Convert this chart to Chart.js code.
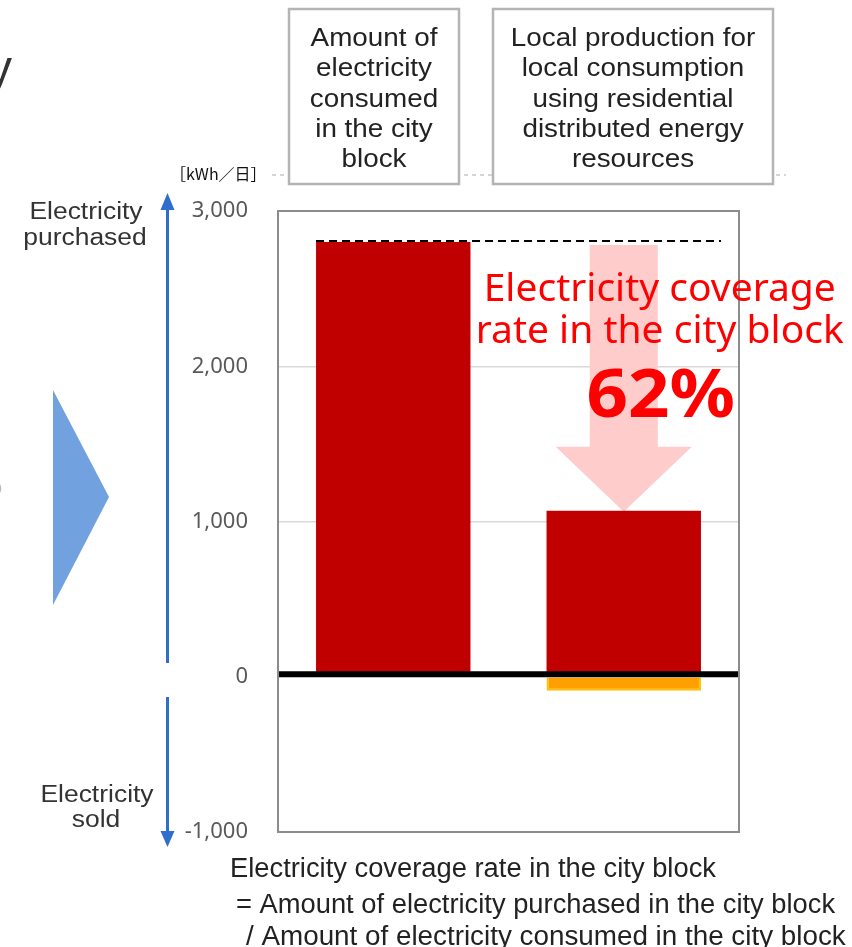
<!DOCTYPE html>
<html>
<head>
<meta charset="utf-8">
<script src="https://cdn.jsdelivr.net/npm/chart.js@4.4.1/dist/chart.umd.min.js"></script>
<style>
  html, body { margin: 0; padding: 0; background: #fff; }
  canvas { display: block; }
</style>
</head>
<body>
<canvas id="coverageChart" width="852" height="947"></canvas>
<script>
// categories (header boxes above the plot)
const categories = [
    'Amount of electricity consumed in the city block',
    'Local production for local consumption using residential distributed energy resources'
];
const headerLines = [
    ['Amount of', 'electricity', 'consumed', 'in the city', 'block'],
    ['Local production for', 'local consumption', 'using residential', 'distributed energy', 'resources']
];

// kWh per day
const purchasedValues = [2800, 1070];
const soldValues = [0, -90];

const yMin = -1000;
const yMax = 3000;
const yStep = 1000;
const unitLabel = '［kWh／日］';

const coverageRate = 62;
const coverageLines = ['Electricity coverage', 'rate in the city block'];
const formulaLines = [
    'Electricity coverage rate in the city block',
    '= Amount of electricity purchased in the city block',
    '/ Amount of electricity consumed in the city block'
];

function drawText(ctx, str, x, y, font, color, align, sx) {
    ctx.save();
    ctx.font = font;
    ctx.fillStyle = color;
    ctx.textAlign = align || 'left';
    ctx.textBaseline = 'alphabetic';
    ctx.translate(x, y);
    ctx.scale(sx || 1, 1);
    ctx.fillText(str, 0, 0);
    ctx.restore();
}

const decorations = {
    id: 'decorations',
    beforeDraw(chart) {
        const ctx = chart.ctx;
        ctx.save();
        ctx.fillStyle = '#fff';
        ctx.fillRect(0, 0, chart.width, chart.height);

        // cropped leftovers of the neighbouring panel
        drawText(ctx, 'y', -12, 84, '48px "Liberation Sans"', '#333', 'left');
        drawText(ctx, 'o', -9, 494, '20px "Liberation Sans"', '#bbb', 'left');

        // blue chevron
        ctx.fillStyle = '#71a2df';
        ctx.beginPath();
        ctx.moveTo(53, 390);
        ctx.lineTo(109, 497);
        ctx.lineTo(53, 605);
        ctx.closePath();
        ctx.fill();

        // blue direction arrows
        ctx.strokeStyle = '#2f6fcc';
        ctx.fillStyle = '#2f6fcc';
        ctx.lineWidth = 3;
        ctx.beginPath();
        ctx.moveTo(167.5, 205);
        ctx.lineTo(167.5, 663);
        ctx.moveTo(167.5, 697);
        ctx.lineTo(167.5, 836);
        ctx.stroke();
        ctx.beginPath();
        ctx.moveTo(167.5, 193);
        ctx.lineTo(174.5, 210);
        ctx.lineTo(160.5, 210);
        ctx.closePath();
        ctx.fill();
        ctx.beginPath();
        ctx.moveTo(167.5, 847);
        ctx.lineTo(174.5, 831);
        ctx.lineTo(160.5, 831);
        ctx.closePath();
        ctx.fill();

        const lab = '23px "Liberation Sans"';
        drawText(ctx, 'Electricity', 86, 219, lab, '#333', 'center', 1.15);
        drawText(ctx, 'purchased', 85, 245, lab, '#333', 'center', 1.15);
        drawText(ctx, 'Electricity', 97, 802, lab, '#333', 'center', 1.15);
        drawText(ctx, 'sold', 96, 827, lab, '#333', 'center', 1.15);

        drawText(ctx, unitLabel, 170, 180, '16px "Noto Sans CJK JP"', '#111', 'left');

        // header boxes
        ctx.strokeStyle = '#c8c8c8';
        ctx.lineWidth = 1.5;
        ctx.setLineDash([4, 4]);
        ctx.beginPath();
        ctx.moveTo(272, 175);
        ctx.lineTo(786, 175);
        ctx.stroke();
        ctx.setLineDash([]);

        const boxes = [[289, 459], [493, 773]];
        boxes.forEach((b, i) => {
            ctx.fillStyle = '#fff';
            ctx.fillRect(b[0], 9, b[1] - b[0], 175);
            ctx.strokeStyle = '#b4b4b4';
            ctx.lineWidth = 2.5;
            ctx.strokeRect(b[0], 9, b[1] - b[0], 175);
            const cx = (b[0] + b[1]) / 2;
            headerLines[i].forEach((line, j) => {
                drawText(ctx, line, cx, 46 + j * 30.3, '26px "Liberation Sans"', '#222', 'center', 1.07);
            });
        });
        ctx.restore();
    },
    beforeDatasetsDraw(chart) {
        const ctx = chart.ctx;
        const y = chart.scales.y;
        const bars = chart.getDatasetMeta(0).data;
        const topY = y.getPixelForValue(purchasedValues[0]);
        const tipY = y.getPixelForValue(purchasedValues[1]);
        const cx = bars[1].x;
        ctx.save();
        ctx.fillStyle = '#ffcccc';
        ctx.beginPath();
        ctx.moveTo(cx - 34, topY + 3);
        ctx.lineTo(cx + 34, topY + 3);
        ctx.lineTo(cx + 34, tipY - 64);
        ctx.lineTo(cx + 68, tipY - 64);
        ctx.lineTo(cx, tipY + 1);
        ctx.lineTo(cx - 68, tipY - 64);
        ctx.lineTo(cx - 34, tipY - 64);
        ctx.closePath();
        ctx.fill();
        ctx.restore();
    },
    afterDatasetsDraw(chart) {
        const ctx = chart.ctx;
        const area = chart.chartArea;
        const y = chart.scales.y;
        const bars = chart.getDatasetMeta(0).data;
        ctx.save();

        // zero line
        const zeroY = y.getPixelForValue(0);
        ctx.strokeStyle = '#000';
        ctx.lineWidth = 6;
        ctx.beginPath();
        ctx.moveTo(area.left, zeroY - 2.5);
        ctx.lineTo(area.right, zeroY - 2.5);
        ctx.stroke();

        // dashed reference line at the consumed amount
        const topY = y.getPixelForValue(purchasedValues[0]) - 1;
        ctx.lineWidth = 2;
        ctx.setLineDash([8, 5]);
        ctx.beginPath();
        ctx.moveTo(bars[0].x - bars[0].width / 2, topY);
        ctx.lineTo(bars[1].x + bars[1].width / 2 + 20, topY);
        ctx.stroke();
        ctx.setLineDash([]);

        // plot border
        ctx.strokeStyle = '#8c8c8c';
        ctx.lineWidth = 2;
        ctx.strokeRect(area.left, area.top, area.right - area.left, area.bottom - area.top);

        // coverage annotation
        const tx = bars[1].x + 36;
        drawText(ctx, coverageLines[0], tx, 301, '39px "Noto Sans"', '#ff0000', 'center');
        drawText(ctx, coverageLines[1], tx, 343, '39px "Noto Sans"', '#ff0000', 'center');
        drawText(ctx, coverageRate + '%', tx + 1, 417, 'bold 66px "Noto Sans"', '#ff0000', 'center', 1.1);

        // formula below the chart
        const f = '27px "Liberation Sans"';
        drawText(ctx, formulaLines[0], 230, 877, f, '#222', 'left', 1.012);
        drawText(ctx, formulaLines[1], 236, 913, f, '#222', 'left', 1.012);
        drawText(ctx, formulaLines[2], 246, 945, f, '#222', 'left', 1.03);
        ctx.restore();
    }
};

const ctx = document.getElementById('coverageChart').getContext('2d');
new Chart(ctx, {
    type: 'bar',
    data: {
        labels: categories,
        datasets: [{
            label: 'Electricity purchased',
            data: purchasedValues,
            backgroundColor: '#c00000',
            borderWidth: 0
        }, {
            label: 'Electricity sold',
            data: soldValues,
            backgroundColor: '#ffa000',
            borderColor: '#ffc000',
            borderWidth: 2
        }]
    },
    options: {
        responsive: false,
        animation: false,
        events: [],
        layout: {
            padding: { left: 0, right: 113, top: 211, bottom: 115 }
        },
        plugins: {
            legend: { display: false },
            tooltip: { enabled: false }
        },
        datasets: {
            bar: { barPercentage: 1, categoryPercentage: 0.67 }
        },
        scales: {
            x: {
                display: false,
                stacked: true
            },
            y: {
                stacked: true,
                min: yMin,
                max: yMax,
                afterFit(scale) { scale.width = 278; },
                border: { display: false },
                grid: {
                    drawTicks: false,
                    lineWidth: 1.5,
                    color: c => (c.tick && c.tick.value > yMin && c.tick.value < yMax && c.tick.value !== 0) ? '#d9d9d9' : 'rgba(0,0,0,0)'
                },
                ticks: {
                    stepSize: yStep,
                    padding: 30,
                    color: '#595959',
                    font: { family: '"Noto Sans"', size: 22 },
                    callback: v => v.toLocaleString('en-US')
                }
            }
        }
    },
    plugins: [decorations]
});
</script>
</body>
</html>
